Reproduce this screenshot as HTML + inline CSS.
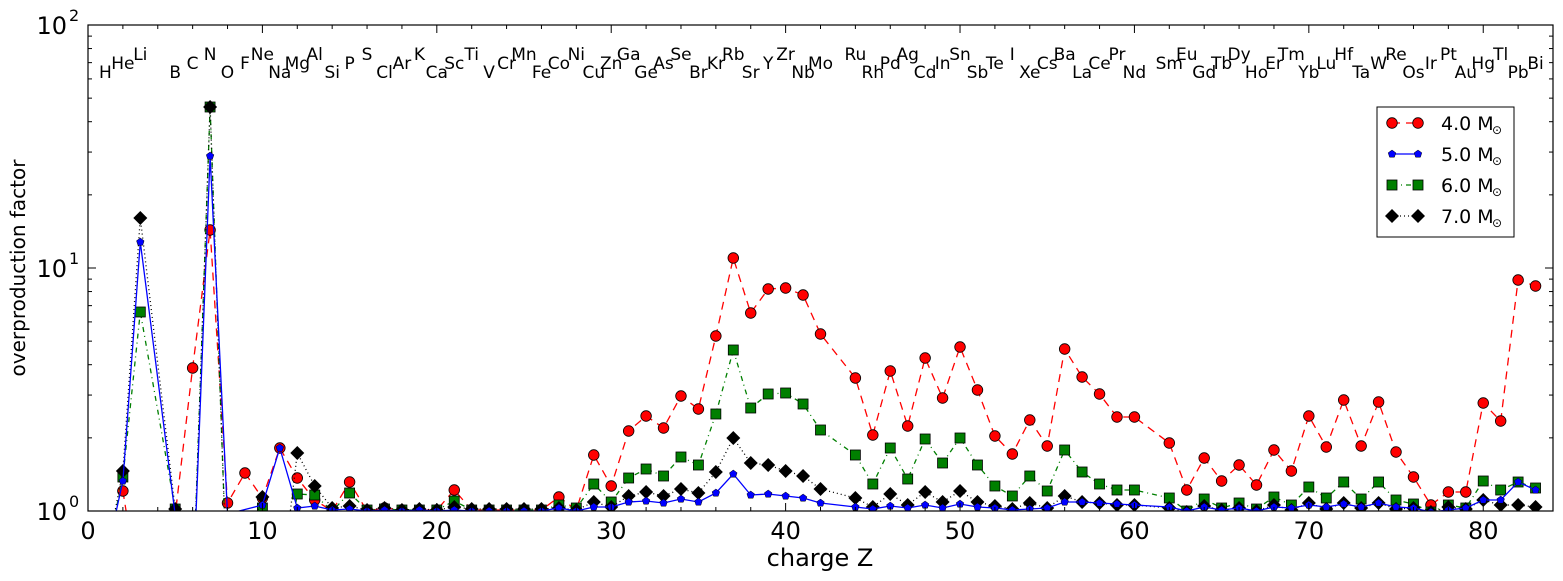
<!DOCTYPE html>
<html><head><meta charset="utf-8">
<style>
html,body{margin:0;padding:0;background:#fff;}
svg{display:block;font-family:"DejaVu Sans","Liberation Sans",sans-serif;}
</style></head>
<body>
<svg id="s" width="1563" height="581" viewBox="0 0 1563 581" xmlns="http://www.w3.org/2000/svg"></svg>
<script>
var L=88,R=1553,T=25,B=511;
function X(z){return L+(z)*(R-L)/84;}
var els="H1 He2 Li3 B5 C6 N7 O8 F9 Ne10 Na11 Mg12 Al13 Si14 P15 S16 Cl17 Ar18 K19 Ca20 Sc21 Ti22 V23 Cr24 Mn25 Fe26 Co27 Ni28 Cu29 Zn30 Ga31 Ge32 As33 Se34 Br35 Kr36 Rb37 Sr38 Y39 Zr40 Nb41 Mo42 Ru44 Rh45 Pd46 Ag47 Cd48 In49 Sn50 Sb51 Te52 I53 Xe54 Cs55 Ba56 La57 Ce58 Pr59 Nd60 Sm62 Eu63 Gd64 Tb65 Dy66 Ho67 Er68 Tm69 Yb70 Lu71 Hf72 Ta73 W74 Re75 Os76 Ir77 Pt78 Au79 Hg80 Tl81 Pb82 Bi83".split(" ");
var red="2:491 3:600 5:515 6:368 7:230 8:503 9:473 10:498 11:448 12:478 13:500 14:511 15:482 16:511 17:508 18:510 19:510 20:510 21:490 22:510 23:510 24:510 25:510 26:510 27:497 28:510 29:455 30:486 31:431 32:416 33:428 34:396 35:409 36:336 37:258 38:313 39:289 40:288 41:295 42:334 44:378 45:435 46:371 47:426 48:358 49:398 50:347 51:390 52:436 53:454 54:420 55:446 56:349 57:377 58:394 59:417 60:417 62:443 63:490 64:458 65:481 66:465 67:485 68:450 69:471 70:416 71:447 72:400 73:446 74:402 75:452 76:477 77:505 78:492 79:492 80:403 81:421 82:280 83:286";
var blue="1:560 2:481 3:242 5:515 6:600 7:156 8:514 10:505 11:448 12:508 13:506 14:510 15:509 16:511 17:510 18:511 19:510 20:511 21:510 22:511 23:511 24:511 25:511 26:511 27:508 28:511 29:507 30:507 31:502 32:501 33:503 34:499 35:502 36:493 37:474 38:495 39:494 40:496 41:498 42:503 44:507 45:509 46:506 47:508 48:505 49:508 50:504 51:507 52:508 53:510 54:509 55:508 56:502 57:502 58:503 59:504 60:505 62:507 63:511 64:507 65:510 66:508 67:511 68:507 69:508 70:505 71:507 72:504 73:507 74:503 75:507 76:508 77:512 78:510 79:508 80:500 81:500 82:482 83:490";
var green="1:560 2:477 3:312 5:509 6:600 7:107 8:600 10:508 11:600 12:494 13:495 14:511 15:493 16:510 17:509 18:510 19:510 20:510 21:501 22:510 23:510 24:510 25:510 26:510 27:505 28:508 29:484 30:502 31:478 32:469 33:476 34:457 35:465 36:414 37:350 38:408 39:394 40:393 41:404 42:430 44:455 45:484 46:448 47:479 48:439 49:463 50:438 51:465 52:486 53:496 54:476 55:491 56:450 57:472 58:484 59:490 60:490 62:498 63:511 64:499 65:508 66:503 67:509 68:497 69:505 70:487 71:498 72:482 73:499 74:482 75:500 76:504 77:512 78:505 79:508 80:481 81:490 82:482 83:488";
var black="1:560 2:471 3:218 5:509 6:600 7:107 8:600 10:497 11:600 12:453 13:486 14:508 15:506 16:510 17:508 18:510 19:509 20:510 21:507 22:509 23:509 24:509 25:509 26:509 27:508 28:510 29:502 30:507 31:496 32:492 33:496 34:489 35:493 36:472 37:438 38:463 39:465 40:471 41:476 42:489 44:498 45:507 46:494 47:505 48:492 49:502 50:491 51:502 52:506 53:509 54:503 55:508 56:496 57:502 58:503 59:505 60:505 62:508 63:512 64:506 65:510 66:508 67:511 68:505 69:510 70:503 71:509 72:503 73:508 74:503 75:509 76:508 77:512 78:507 79:509 80:500 81:505 82:505 83:507";
function parse(s){return s.split(" ").map(function(p){var a=p.split(":");return [X(+a[0]),+a[1]];});}
var h='<defs><clipPath id="c"><rect x="'+L+'" y="'+T+'" width="'+(R-L)+'" height="'+(B-T)+'"/></clipPath></defs>';
function line(pts,col,dash,w){return '<polyline clip-path="url(#c)" fill="none" stroke="'+col+'" stroke-width="'+w+'" '+(dash?'stroke-dasharray="'+dash+'"':'')+' points="'+pts.map(function(p){return p[0].toFixed(1)+','+p[1];}).join(' ')+'"/>';}
function mk(t,x,y){
 if(t=='r')return '<circle cx="'+x+'" cy="'+y+'" r="5.3" fill="#f00" stroke="#000" stroke-width="0.8"/>';
 if(t=='b'){var s='';for(var i=0;i<5;i++){var a=-Math.PI/2+i*2*Math.PI/5;s+=(x+4*Math.cos(a)).toFixed(1)+','+(y+4*Math.sin(a)).toFixed(1)+' ';}return '<polygon points="'+s+'" fill="#00f" stroke="#000" stroke-width="0.5"/>';}
 if(t=='g')return '<rect x="'+(x-5)+'" y="'+(y-5)+'" width="10" height="10" fill="#007f00" stroke="#000" stroke-width="0.8"/>';
 return '<polygon points="'+x+','+(y-7)+' '+(x+7)+','+y+' '+x+','+(y+7)+' '+(x-7)+','+y+'" fill="#000"/>';
}
function series(s,col,dash,t){var p=parse(s);var o=line(p,col,dash,1.3);o+='<g clip-path="url(#c)">';p.forEach(function(q){if(q[1]<=B+1)o+=mk(t,q[0],q[1]);});return o+'</g>';}
h+=series(red,'#f00','8,6','r');
h+=series(green,'#007f00','5,4,1,4','g');
h+=series(black,'#000','1,3','k');
h+=series(blue,'#00f','','b');
h+='<rect x="'+L+'" y="'+T+'" width="'+(R-L)+'" height="'+(B-T)+'" fill="none" stroke="#000" stroke-width="1.2"/>';
for(var z=0;z<=84;z+=2){var x=X(z),len=(z%10==0)?8:4;h+='<line x1="'+x+'" y1="'+B+'" x2="'+x+'" y2="'+(B-len)+'" stroke="#000"/><line x1="'+x+'" y1="'+T+'" x2="'+x+'" y2="'+(T+len)+'" stroke="#000"/>';
 if(z%10==0)h+='<text x="'+x+'" y="539" font-size="24" text-anchor="middle">'+z+'</text>';}
var dec=(B-T)/2;
for(var d=0;d<2;d++)for(var k=1;k<=10;k++){if(k==10&&d==0)continue;var y=B-dec*(d+Math.log10(k));var len=(k==1||k==10)?8:4;h+='<line x1="'+L+'" y1="'+y+'" x2="'+(L+len)+'" y2="'+y+'" stroke="#000"/><line x1="'+R+'" y1="'+y+'" x2="'+(R-len)+'" y2="'+y+'" stroke="#000"/>';}
[0,1,2].forEach(function(e){var y=B-dec*e;h+='<text x="67" y="'+(y+9)+'" font-size="24" text-anchor="end">10</text><text x="69" y="'+(y-4)+'" font-size="16">'+e+'</text>';});
h+='<text x="820" y="566" font-size="24" text-anchor="middle">charge Z</text>';
h+='<text transform="translate(25,268) rotate(-90)" font-size="20" text-anchor="middle">overproduction factor</text>';
var lv=[78,69,60];
els.forEach(function(e,i){var m=e.match(/([A-Za-z]+)(\d+)/);h+='<text x="'+X(+m[2]).toFixed(1)+'" y="'+lv[i%3]+'" font-size="17" text-anchor="middle">'+m[1]+'</text>';});
h+='<rect x="1377" y="107" width="137" height="130" fill="#fff" stroke="#000" stroke-width="1"/>';
var lg=[['r','#f00','8,6','4.0'],['b','#00f','','5.0'],['g','#007f00','5,4,1,4','6.0'],['k','#000','1,3','7.0']];
lg.forEach(function(l,i){var y=123+i*31;h+='<line x1="1392" y1="'+y+'" x2="1418" y2="'+y+'" stroke="'+l[1]+'" stroke-width="1.3" '+(l[2]?'stroke-dasharray="'+l[2]+'"':'')+'/>'+mk(l[0],1392,y)+mk(l[0],1418,y);
 h+='<text x="1441" y="'+(y+7)+'" font-size="19">'+l[3]+' M</text><text x="1492" y="'+(y+11)+'" font-size="12">\u2299</text>';});
document.getElementById('s').innerHTML=h;
</script>
</body></html>
